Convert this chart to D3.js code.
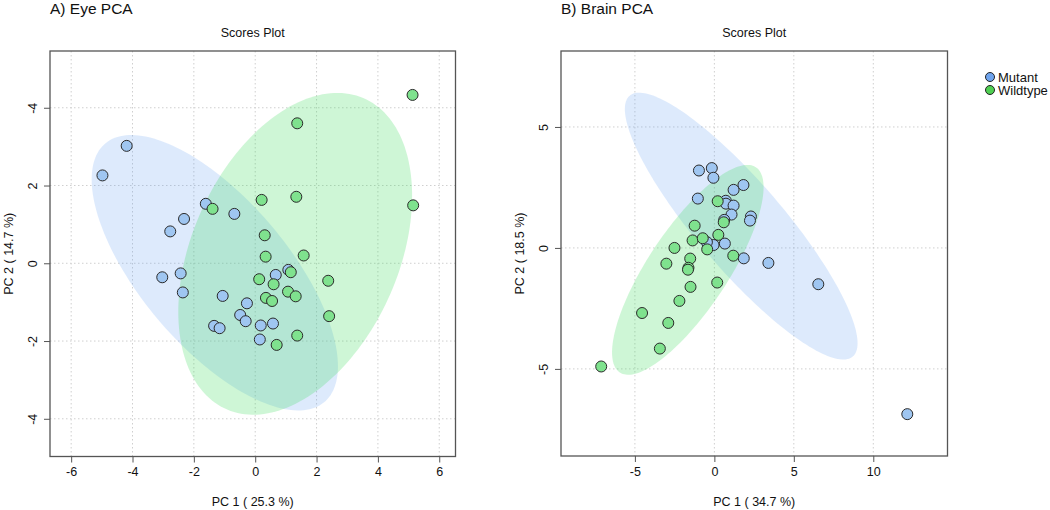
<!DOCTYPE html>
<html>
<head>
<meta charset="utf-8">
<script src="https://cdn.jsdelivr.net/npm/d3@7"></script>
<style>
  body { margin: 0; background: #fff; }
  svg { font-family: "Liberation Sans", Arial, Helvetica, sans-serif; }
</style>
</head>
<body>
<div id="chart-area"></div>
<script>
const WIDTH = 1050;
const HEIGHT = 510;

// groups
const groups = ["Mutant", "Wildtype"];

// A) Eye PCA scores (PC1, PC2)
const eyeMutant = [
  [-4.98, 2.26], [-4.19, 3.02], [-1.61, 1.53], [-2.32, 1.14], [-2.77, 0.82],
  [-0.68, 1.27], [-3.03, -0.36], [-2.43, -0.26], [-2.36, -0.75], [-1.06, -0.84],
  [-0.27, -1.03], [-0.49, -1.33], [-0.31, -1.49], [-1.34, -1.61], [-1.16, -1.67],
  [0.18, -1.60], [0.58, -1.55], [0.15, -1.96], [0.67, -0.30], [1.08, -0.17]
];
const eyeWildtype = [
  [5.13, 4.33], [1.37, 3.60], [1.34, 1.71], [0.21, 1.63], [5.15, 1.49],
  [-1.39, 1.40], [0.31, 0.72], [0.34, 0.17], [1.58, 0.20], [0.13, -0.41],
  [0.60, -0.54], [1.16, -0.23], [2.38, -0.45], [1.07, -0.73], [1.32, -0.85],
  [0.35, -0.89], [0.55, -0.97], [2.41, -1.36], [1.37, -1.86], [0.70, -2.10]
];

// B) Brain PCA scores (PC1, PC2)
const brainMutant = [
  [-0.97, 3.20], [-0.16, 3.30], [-0.06, 2.90], [1.83, 2.60], [1.21, 2.40],
  [-1.04, 2.04], [0.72, 1.95], [0.73, 1.83], [1.21, 1.75], [1.08, 1.38],
  [2.30, 1.30], [2.24, 1.13], [0.62, 1.16], [0.66, 0.18], [-0.05, 0.12],
  [-0.47, 0.24], [1.85, -0.43], [3.40, -0.62], [6.54, -1.50], [12.14, -6.87]
];
const brainWildtype = [
  [-7.12, -4.90], [-3.43, -4.16], [-4.55, -2.69], [-2.90, -3.10], [-2.20, -2.19],
  [-1.50, -1.61], [0.18, -1.43], [-3.02, -0.65], [-1.52, -0.44], [-1.63, -0.82],
  [-1.66, -0.90], [-2.51, 0.00], [-1.37, 0.31], [-0.45, -0.06], [-0.73, 0.40],
  [-1.24, 0.92], [0.25, 0.54], [1.19, -0.32], [0.21, 1.93], [0.59, 1.06]
];

// axis ticks and labels
const eyeXTicks = [-6, -4, -2, 0, 2, 4, 6];
const eyeXTickLabels = ["-6", "-4", "-2", "0", "2", "4", "6"];
const eyeYTicks = [-4, -2, 0, 2, 4];
const eyeYTickLabels = ["-4", "-2", "0", "2", "-4"];
const brainXTicks = [-5, 0, 5, 10];
const brainXTickLabels = ["-5", "0", "5", "10"];
const brainYTicks = [-5, 0, 5];
const brainYTickLabels = ["-5", "0", "5"];

const pointFill = { Mutant: "#9fc6f1", Wildtype: "#7fe28e" };
const ellipseFill = { Mutant: "rgba(100,160,240,0.22)", Wildtype: "rgba(60,220,90,0.25)" };
const legendFill = { Mutant: "#6fa4ee", Wildtype: "#4fcf52" };

const svg = d3.select("#chart-area").append("svg")
  .attr("width", WIDTH)
  .attr("height", HEIGHT);

// 95% confidence ellipse from covariance
const ellipsePoints = (pts) => {
  const n = pts.length;
  const mx = d3.mean(pts, d => d[0]);
  const my = d3.mean(pts, d => d[1]);
  let sxx = 0, syy = 0, sxy = 0;
  pts.forEach(d => {
    sxx += (d[0] - mx) * (d[0] - mx);
    syy += (d[1] - my) * (d[1] - my);
    sxy += (d[0] - mx) * (d[1] - my);
  });
  sxx /= n - 1; syy /= n - 1; sxy /= n - 1;
  const tr = sxx + syy, det = sxx * syy - sxy * sxy;
  const l1 = tr / 2 + Math.sqrt(tr * tr / 4 - det);
  const l2 = tr / 2 - Math.sqrt(tr * tr / 4 - det);
  const theta = Math.atan2(l1 - sxx, sxy);
  const k = Math.sqrt(-2 * Math.log(0.05)); // sqrt(qchisq(.95, 2))
  const a = k * Math.sqrt(l1), b = k * Math.sqrt(l2);
  return d3.range(0, 361, 2).map(deg => {
    const t = deg * Math.PI / 180;
    const ex = a * Math.cos(t), ey = b * Math.sin(t);
    return [mx + ex * Math.cos(theta) - ey * Math.sin(theta),
            my + ex * Math.sin(theta) + ey * Math.cos(theta)];
  });
};

const drawPanel = (cfg) => {
  const g = svg.append("g");
  const x = d3.scaleLinear().domain(cfg.xDomain).range([cfg.left, cfg.right]);
  const y = d3.scaleLinear().domain(cfg.yDomain).range([cfg.bottom, cfg.top]);

  // titles
  g.append("text")
    .attr("x", cfg.left).attr("y", 14)
    .attr("font-size", "15.5px").attr("fill", "#111")
    .text(cfg.title);
  g.append("text")
    .attr("x", (cfg.left + cfg.right) / 2).attr("y", 37)
    .attr("font-size", "12.5px").attr("text-anchor", "middle").attr("fill", "#111")
    .text("Scores Plot");

  // grid
  g.selectAll(".vgrid").data(cfg.xTicks).enter().append("line")
    .attr("x1", d => x(d)).attr("x2", d => x(d))
    .attr("y1", cfg.top).attr("y2", cfg.bottom)
    .attr("stroke", "#cfcfcf").attr("stroke-dasharray", "1.5,2.5");
  g.selectAll(".hgrid").data(cfg.yTicks).enter().append("line")
    .attr("y1", d => y(d)).attr("y2", d => y(d))
    .attr("x1", cfg.left).attr("x2", cfg.right)
    .attr("stroke", "#cfcfcf").attr("stroke-dasharray", "1.5,2.5");

  // ellipses
  const line = d3.line().x(d => x(d[0])).y(d => y(d[1]));
  cfg.series.forEach(s => {
    g.append("path")
      .attr("d", line(ellipsePoints(s.values)) + "Z")
      .attr("fill", ellipseFill[s.name]);
  });

  // points
  cfg.series.forEach(s => {
    g.selectAll(".pt-" + s.name).data(s.values).enter().append("circle")
      .attr("cx", d => x(d[0])).attr("cy", d => y(d[1]))
      .attr("r", 5.5)
      .attr("fill", pointFill[s.name])
      .attr("stroke", "#2a2a2a").attr("stroke-width", 1);
  });

  // box
  g.append("rect")
    .attr("x", cfg.left).attr("y", cfg.top)
    .attr("width", cfg.right - cfg.left).attr("height", cfg.bottom - cfg.top)
    .attr("fill", "none").attr("stroke", "#555").attr("stroke-width", 1.3);

  // axes
  const xAxis = d3.axisBottom(x).tickValues(cfg.xTicks).tickSize(6)
    .tickFormat((d, i) => cfg.xTickLabels[i]);
  const xg = g.append("g").attr("transform", `translate(0, ${cfg.bottom})`).call(xAxis);
  const yAxis = d3.axisLeft(y).tickValues(cfg.yTicks).tickSize(6)
    .tickFormat((d, i) => cfg.yTickLabels[i]);
  const yg = g.append("g").attr("transform", `translate(${cfg.left}, 0)`).call(yAxis);
  [xg, yg].forEach(a => {
    a.select(".domain").remove();
    a.selectAll("line").attr("stroke", "#555");
    a.selectAll("text").attr("font-size", "12.5px").attr("fill", "#111")
      .attr("font-family", "Liberation Sans, Arial, sans-serif");
  });
  xg.selectAll("text").attr("y", 11);
  // R style: y tick labels parallel to the axis
  yg.selectAll("text")
    .attr("text-anchor", "middle")
    .attr("x", 0).attr("y", -13).attr("dy", 0)
    .attr("transform", "rotate(-90)");

  // axis labels
  g.append("text")
    .attr("x", (cfg.left + cfg.right) / 2).attr("y", 506)
    .attr("font-size", "12.5px").attr("text-anchor", "middle").attr("fill", "#111")
    .text(cfg.xLabel);
  g.append("text")
    .attr("transform", `translate(${cfg.left - 37}, ${(cfg.top + cfg.bottom) / 2}) rotate(-90)`)
    .attr("font-size", "12.5px").attr("text-anchor", "middle").attr("fill", "#111")
    .text(cfg.yLabel);
};

drawPanel({
  title: "A) Eye PCA",
  left: 50, right: 455.5, top: 51, bottom: 456.5,
  xDomain: [-6.69, 6.53], yDomain: [-4.97, 5.46],
  xTicks: eyeXTicks, xTickLabels: eyeXTickLabels,
  yTicks: eyeYTicks, yTickLabels: eyeYTickLabels,
  xLabel: "PC 1 ( 25.3 %)", yLabel: "PC 2 ( 14.7 %)",
  series: [{ name: groups[0], values: eyeMutant }, { name: groups[1], values: eyeWildtype }]
});

drawPanel({
  title: "B) Brain PCA",
  left: 561, right: 947.5, top: 51, bottom: 456,
  xDomain: [-9.65, 14.67], yDomain: [-8.6, 8.14],
  xTicks: brainXTicks, xTickLabels: brainXTickLabels,
  yTicks: brainYTicks, yTickLabels: brainYTickLabels,
  xLabel: "PC 1 ( 34.7 %)", yLabel: "PC 2 ( 18.5 %)",
  series: [{ name: groups[0], values: brainMutant }, { name: groups[1], values: brainWildtype }]
});

// legend
const legend = svg.append("g").attr("transform", "translate(990, 77)");
legend.selectAll("circle").data(groups).enter().append("circle")
  .attr("cx", 0).attr("cy", (d, i) => i * 13)
  .attr("r", 4.5)
  .attr("fill", d => legendFill[d]).attr("stroke", "#222");
legend.selectAll("text").data(groups).enter().append("text")
  .attr("x", 8).attr("y", (d, i) => i * 13 + 4.5)
  .attr("font-size", "13px").attr("fill", "#111")
  .text(d => d);
</script>
</body>
</html>
